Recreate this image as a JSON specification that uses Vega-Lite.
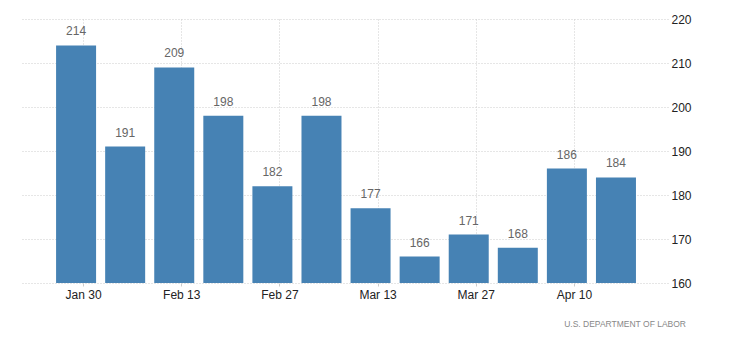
{
  "$schema": "https://vega.github.io/schema/vega-lite/v6.json",
  "autosize": {"type": "none"},
  "width": 646,
  "height": 264,
  "padding": {"left": 22, "top": 19, "right": 62, "bottom": 62},
  "background": "white",
  "config": {
    "view": {"stroke": null},
    "font": "Liberation Sans"
  },
  "title": {
    "text": "U.S. DEPARTMENT OF LABOR",
    "orient": "bottom",
    "anchor": "end",
    "frame": "group",
    "dx": 18,
    "offset": 20,
    "fontSize": 8.5,
    "fontWeight": "normal",
    "color": "#888888",
    "font": "Liberation Sans"
  },
  "data": {
    "values": [
      {"date": "2021-01-29", "value": 214},
      {"date": "2021-02-05", "value": 191},
      {"date": "2021-02-12", "value": 209},
      {"date": "2021-02-19", "value": 198},
      {"date": "2021-02-26", "value": 182},
      {"date": "2021-03-05", "value": 198},
      {"date": "2021-03-12", "value": 177},
      {"date": "2021-03-19", "value": 166},
      {"date": "2021-03-26", "value": 171},
      {"date": "2021-04-02", "value": 168},
      {"date": "2021-04-09", "value": 186},
      {"date": "2021-04-16", "value": 184}
    ]
  },
  "encoding": {
    "x": {
      "field": "date",
      "type": "temporal",
      "scale": {"type": "utc", "domain": ["2021-01-22T00:00:00Z", "2021-04-22T17:00:00Z"]},
      "axis": {
        "title": null,
        "format": "%b %d",
        "values": ["2021-01-30T00:00:00Z", "2021-02-13T00:00:00Z", "2021-02-27T00:00:00Z", "2021-03-13T00:00:00Z", "2021-03-27T00:00:00Z", "2021-04-10T00:00:00Z"],
        "domain": false,
        "grid": true,
        "gridColor": "#cccccc",
        "gridDash": [1, 2],
        "tickSize": 3,
        "tickColor": "#cccccc",
        "labelPadding": 3,
        "labelFontSize": 12,
        "labelColor": "#222222",
        "labelFont": "Liberation Sans"
      }
    },
    "y": {
      "field": "value",
      "type": "quantitative",
      "scale": {"domain": [160, 220], "zero": false, "nice": false},
      "axis": {
        "title": null,
        "orient": "right",
        "values": [160, 170, 180, 190, 200, 210, 220],
        "domain": false,
        "ticks": false,
        "grid": true,
        "gridColor": "#cccccc",
        "gridDash": [1, 2],
        "labelPadding": 3,
        "labelFontSize": 12,
        "labelColor": "#222222",
        "labelFont": "Liberation Sans"
      }
    }
  },
  "layer": [
    {
      "mark": {"type": "bar", "width": 40, "color": "#4682b4"},
      "encoding": {"y2": {"datum": 160}}
    },
    {
      "mark": {"type": "text", "baseline": "bottom", "dy": -7, "fontSize": 12, "color": "#666666", "font": "Liberation Sans"},
      "encoding": {"text": {"field": "value", "type": "quantitative"}}
    }
  ]
}
